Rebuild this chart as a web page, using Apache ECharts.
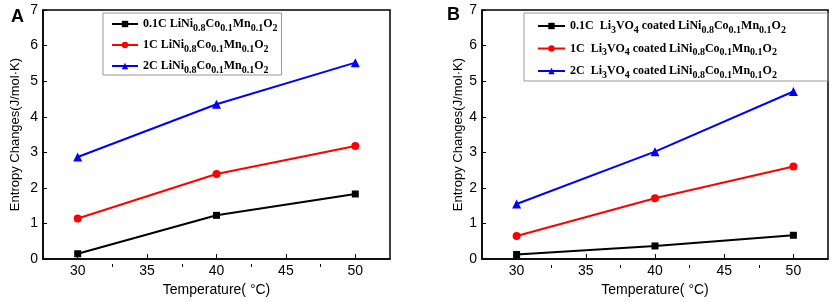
<!DOCTYPE html>
<html>
<head>
<meta charset="utf-8">
<script src="https://cdn.jsdelivr.net/npm/echarts@6/dist/echarts.min.js"></script>
<style>
  html, body { margin: 0; padding: 0; background: #fff; }
  #main { width: 835px; height: 302px; }
</style>
</head>
<body>
<div id="main"></div>
<script>
// temperatures (°C)
var temps = [30, 40, 50];
var xMajor = [30, 35, 40, 45, 50];
var xMinor = [32.5, 37.5, 42.5, 47.5];

// panel A: LiNi0.8Co0.1Mn0.1O2
var namesA = [
  '0.1C LiNi0.8Co0.1Mn0.1O2',
  '1C LiNi0.8Co0.1Mn0.1O2',
  '2C LiNi0.8Co0.1Mn0.1O2'
];
var a01 = [0.15, 1.23, 1.83];
var a1 = [1.14, 2.39, 3.18];
var a2 = [2.87, 4.35, 5.52];

// panel B: Li3VO4 coated
var namesB = [
  '0.1C  Li3VO4 coated LiNi0.8Co0.1Mn0.1O2',
  '1C  Li3VO4 coated LiNi0.8Co0.1Mn0.1O2',
  '2C  Li3VO4 coated LiNi0.8Co0.1Mn0.1O2'
];
var b01 = [0.13, 0.37, 0.67];
var b1 = [0.65, 1.71, 2.6];
var b2 = [1.55, 3.02, 4.71];

var colors = ['#000000', '#ff0000', '#0000ff'];
var symbols = ['rect', 'circle', 'triangle'];
var symSizes = [7, 8, 9];

// turn "LiNi0.8" into rich text with subscripts
function richName(name) {
  var parts = name.split(/(?<=[A-Za-z])(\d+(?:\.\d+)?)/);
  return parts.map(function (p, i) {
    if (p === '') return '';
    return i % 2 ? '{s|' + p + '}' : '{t|' + p + '}';
  }).join('');
}

var legendRich = {
  t: {
    fontFamily: 'Liberation Serif',
    fontWeight: 'bold',
    fontSize: 12,
    lineHeight: 18,
    color: '#000'
  },
  s: {
    fontFamily: 'Liberation Serif',
    fontWeight: 'bold',
    fontSize: 10,
    lineHeight: 10,
    padding: [8, 0, 0, 0],
    color: '#000'
  }
};

function makeSeries(names, sets, xi) {
  return sets.map(function (vals, k) {
    return {
      name: names[k],
      type: 'line',
      xAxisIndex: xi,
      yAxisIndex: xi,
      data: temps.map(function (t, i) { return [t, vals[i]]; }),
      symbol: symbols[k],
      symbolSize: symSizes[k],
      color: colors[k],
      lineStyle: { width: 2, color: colors[k] },
      itemStyle: { color: colors[k] },
      animation: false
    };
  });
}

var labelFont = { fontFamily: 'Liberation Sans', fontSize: 14, color: '#000' };

function mainX(grid, name) {
  return {
    type: 'value', gridIndex: grid, min: 27.5, max: 52.5,
    name: name, nameLocation: 'middle', nameGap: 23,
    nameTextStyle: labelFont,
    axisLine: { show: true, lineStyle: { color: '#000', width: 1.5 } },
    axisTick: { show: true, inside: true, length: 5, customValues: xMajor, lineStyle: { color: '#000' } },
    axisLabel: Object.assign({ customValues: xMajor, margin: 5 }, labelFont),
    splitLine: { show: false }
  };
}
function minorX(grid) {
  return {
    type: 'value', gridIndex: grid, min: 27.5, max: 52.5, position: 'bottom',
    axisLine: { show: false },
    axisTick: { show: true, inside: true, length: 3, customValues: xMinor, lineStyle: { color: '#000' } },
    axisLabel: { show: false },
    splitLine: { show: false }
  };
}
function mainY(grid, gap) {
  return {
    type: 'value', gridIndex: grid, min: 0, max: 7, interval: 1,
    name: 'Entropy Changes(J/mol·K)', nameLocation: 'middle', nameGap: gap,
    nameTextStyle: { fontFamily: 'Liberation Sans', fontSize: 13, color: '#000' },
    axisLine: { show: true, lineStyle: { color: '#000', width: 1.5 } },
    axisTick: { show: true, inside: true, length: 4, lineStyle: { color: '#000' } },
    axisLabel: Object.assign({ margin: 5 }, labelFont),
    splitLine: { show: false }
  };
}
function hiddenY(grid) {
  return { type: 'value', gridIndex: grid, min: 0, max: 7, show: false };
}

var chart = echarts.init(document.getElementById('main'), null, { renderer: 'canvas' });

var option = {
  animation: false,
  title: [
    { text: 'A', left: 6, top: 3, textStyle: { fontFamily: 'Liberation Sans', fontWeight: 'bold', fontSize: 18, color: '#000' } },
    { text: 'B', left: 442, top: 1, textStyle: { fontFamily: 'Liberation Sans', fontWeight: 'bold', fontSize: 18, color: '#000' } }
  ],
  grid: [
    { left: 43, top: 10, width: 347, height: 257, show: true, borderColor: '#000', borderWidth: 1.5 },
    { left: 482, top: 10, width: 346, height: 258, show: true, borderColor: '#000', borderWidth: 1.5 },
    { left: 43, top: 10, width: 347, height: 257 },
    { left: 482, top: 10, width: 346, height: 258 }
  ],
  xAxis: [mainX(0, 'Temperature( °C)'), mainX(1, 'Temperature( °C)'), minorX(2), minorX(3)],
  yAxis: [mainY(0, 21), mainY(1, 14), hiddenY(2), hiddenY(3)],
  legend: [
    {
      data: namesA, orient: 'vertical', left: 103, top: 13,
      itemWidth: 26, itemHeight: 8, itemGap: 3,
      padding: [2, 4, 0, 8],
      borderColor: '#999', borderWidth: 1,
      formatter: richName,
      textStyle: { rich: legendRich }
    },
    {
      data: namesB, orient: 'vertical', left: 524, top: 13,
      itemWidth: 27, itemHeight: 8, itemGap: 4.5,
      padding: [4, 42, 1, 13],
      borderColor: '#999', borderWidth: 1,
      formatter: richName,
      textStyle: { rich: legendRich }
    }
  ],
  series: makeSeries(namesA, [a01, a1, a2], 0).concat(makeSeries(namesB, [b01, b1, b2], 1))
};

chart.setOption(option);
window.addEventListener('resize', chart.resize);
</script>
</body>
</html>
